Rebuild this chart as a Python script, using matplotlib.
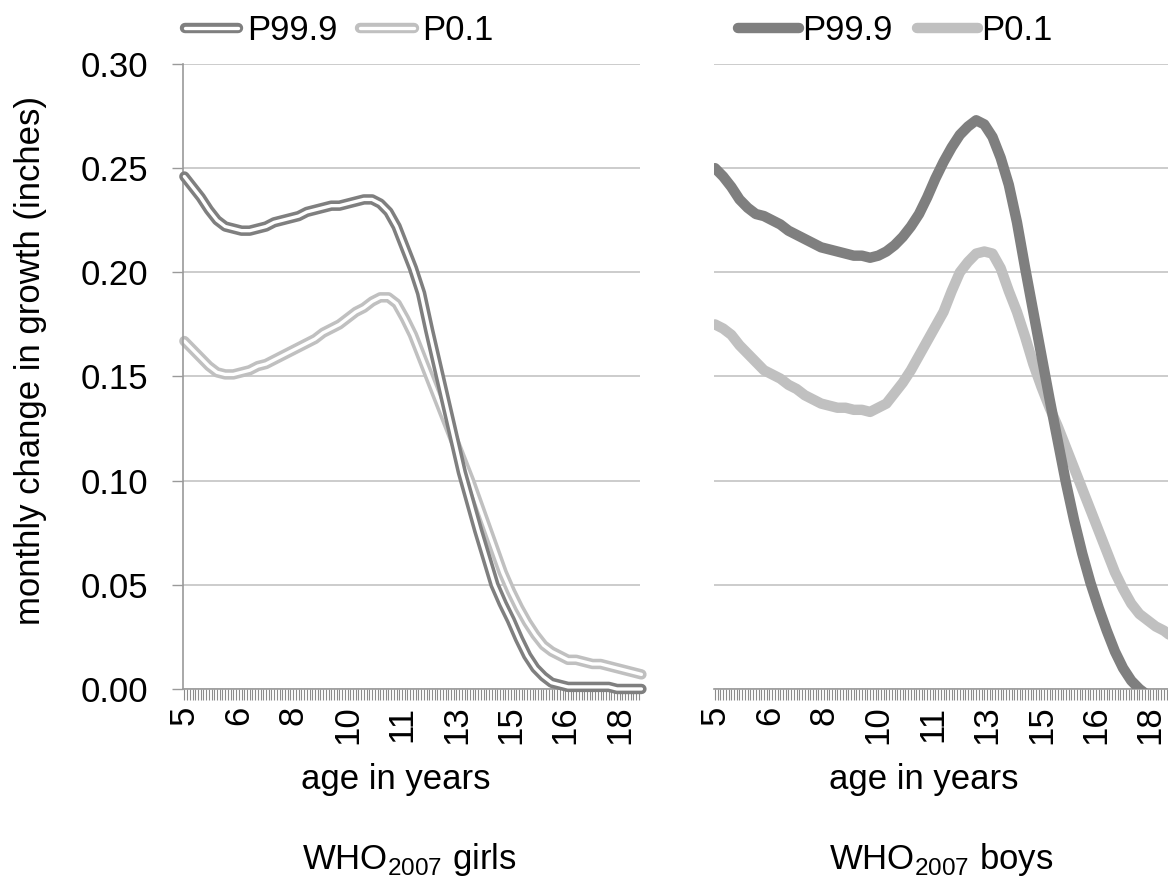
import matplotlib
matplotlib.use("Agg")
import matplotlib.pyplot as plt
import matplotlib.patheffects as pe
from matplotlib.ticker import MultipleLocator, FixedLocator, FixedFormatter

plt.rcParams['font.family'] = ['Liberation Sans', 'DejaVu Sans']
plt.rcParams['mathtext.fontset'] = 'custom'
plt.rcParams['mathtext.rm'] = 'Liberation Sans'

# age in months, one reading every 3 months (5 to 19 years)
months = list(range(60, 229, 3))

girls_p999 = [0.246, 0.241, 0.236, 0.230, 0.225, 0.222, 0.221, 0.220, 0.220, 0.221,
              0.222, 0.224, 0.225, 0.226, 0.227, 0.229, 0.230, 0.231, 0.232, 0.232,
              0.233, 0.234, 0.235, 0.235, 0.233, 0.229, 0.222, 0.212, 0.202, 0.190,
              0.172, 0.155, 0.138, 0.121, 0.104, 0.090, 0.076, 0.063, 0.050, 0.041,
              0.033, 0.024, 0.016, 0.010, 0.006, 0.003, 0.002, 0.001, 0.001, 0.001,
              0.001, 0.001, 0.001, 0.000, 0.000, 0.000, 0.000]
girls_p01 = [0.167, 0.163, 0.159, 0.155, 0.152, 0.151, 0.151, 0.152, 0.153, 0.155,
             0.156, 0.158, 0.160, 0.162, 0.164, 0.166, 0.168, 0.171, 0.173, 0.175,
             0.178, 0.181, 0.183, 0.186, 0.188, 0.188, 0.185, 0.178, 0.170, 0.160,
             0.150, 0.140, 0.130, 0.120, 0.110, 0.100, 0.089, 0.078, 0.067, 0.056,
             0.047, 0.039, 0.032, 0.026, 0.021, 0.018, 0.016, 0.014, 0.014, 0.013,
             0.012, 0.012, 0.011, 0.010, 0.009, 0.008, 0.007]

boys_p999 = [0.250, 0.246, 0.241, 0.235, 0.231, 0.228, 0.227, 0.225, 0.223, 0.220,
             0.218, 0.216, 0.214, 0.212, 0.211, 0.210, 0.209, 0.208, 0.208, 0.207,
             0.208, 0.210, 0.213, 0.217, 0.222, 0.228, 0.236, 0.245, 0.253, 0.260,
             0.266, 0.270, 0.273, 0.271, 0.265, 0.255, 0.242, 0.224, 0.202, 0.181,
             0.160, 0.139, 0.119, 0.099, 0.081, 0.065, 0.051, 0.039, 0.028, 0.018,
             0.010, 0.004, 0.000, -0.003, -0.006, -0.009, -0.012]
boys_p01 = [0.175, 0.173, 0.170, 0.165, 0.161, 0.157, 0.153, 0.151, 0.149, 0.146,
            0.144, 0.141, 0.139, 0.137, 0.136, 0.135, 0.135, 0.134, 0.134, 0.133,
            0.135, 0.137, 0.142, 0.147, 0.153, 0.160, 0.167, 0.174, 0.181, 0.191,
            0.200, 0.205, 0.209, 0.210, 0.209, 0.202, 0.191, 0.181, 0.169, 0.156,
            0.145, 0.135, 0.126, 0.116, 0.106, 0.096, 0.086, 0.076, 0.066, 0.056,
            0.048, 0.041, 0.036, 0.033, 0.030, 0.028, 0.025]

label_months = [60, 80, 100, 120, 140, 160, 180, 200, 220]
label_text = [str(m // 12) for m in label_months]
yticks = [0.00, 0.05, 0.10, 0.15, 0.20, 0.25, 0.30]

dark = '#7f7f7f'
light = '#c0c0c0'
fs = 25

fig = plt.figure(figsize=(11.68, 8.89), dpi=100)
ax1 = fig.add_axes([0.1567, 0.225, 0.3913, 0.703])
ax2 = fig.add_axes([0.611, 0.225, 0.3913, 0.703])


def style_axes(ax, show_y, label_x):
    ax.set_xlim(59.5, 227.5)
    ax.set_ylim(0, 0.30)
    ax.set_yticks(yticks)
    ax.grid(axis='y', color='#c8c8c8', lw=1.3)
    ax.set_axisbelow(True)
    for s in ['top', 'right']:
        ax.spines[s].set_visible(False)
    ax.spines['bottom'].set_color('#9a9a9a')
    ax.spines['bottom'].set_linewidth(1.2)
    ax.xaxis.set_major_locator(FixedLocator(label_months))
    ax.xaxis.set_major_formatter(FixedFormatter(label_text))
    ax.xaxis.set_minor_locator(MultipleLocator(1))
    ax.tick_params(axis='x', which='both', direction='out', length=8, width=0.8,
                   color='#8c8c8c', labelsize=fs, labelrotation=90, pad=4)
    if show_y:
        ax.spines['left'].set_color('#9a9a9a')
        ax.spines['left'].set_linewidth(1.2)
        ax.tick_params(axis='y', direction='out', length=8, width=1.0,
                       color='#9a9a9a', labelsize=fs, pad=17)
        ax.set_yticklabels(['%.2f' % v for v in yticks])
    else:
        ax.spines['left'].set_visible(False)
        ax.tick_params(axis='y', length=0, labelleft=False)
    ax.set_xlabel('age in years', fontsize=fs)
    ax.xaxis.set_label_coords(label_x, -0.118)


style_axes(ax1, True, 0.466)
style_axes(ax2, False, 0.46)

# girls: compound lines (grey edges, white core)
edge_d = [pe.Stroke(linewidth=7.5, foreground=dark, capstyle='round'), pe.Normal()]
edge_l = [pe.Stroke(linewidth=7.5, foreground=light, capstyle='round'), pe.Normal()]
g1, = ax1.plot(months, girls_p999, color='white', lw=2.4, solid_capstyle='round',
               solid_joinstyle='round', path_effects=edge_d, zorder=3, clip_on=False)
g2, = ax1.plot(months, girls_p01, color='white', lw=2.4, solid_capstyle='round',
               solid_joinstyle='round', path_effects=edge_l, zorder=2, clip_on=False)

ax1.legend([g1, g2], ['P99.9', 'P0.1'],
           loc='center left', bbox_to_anchor=(0.158, 0.966), bbox_transform=fig.transFigure,
           ncol=2, frameon=False, fontsize=fs, handlelength=1.55, handletextpad=0.25,
           columnspacing=0.65, borderpad=0, borderaxespad=0)

# boys: solid thick lines
b1, = ax2.plot(months, boys_p999, color=dark, lw=7.5, solid_capstyle='round',
               solid_joinstyle='round', zorder=3)
b2, = ax2.plot(months, boys_p01, color=light, lw=7.5, solid_capstyle='round',
               solid_joinstyle='round', zorder=2)

ax2.legend([b1, b2], ['P99.9', 'P0.1'],
           loc='center left', bbox_to_anchor=(0.632, 0.966), bbox_transform=fig.transFigure,
           ncol=2, frameon=False, fontsize=fs, handlelength=1.75, handletextpad=0.1,
           columnspacing=0.7, borderpad=0, borderaxespad=0)

fig.text(0.026, 0.595, 'monthly change in growth (inches)', rotation=90,
         fontsize=fs, ha='center', va='center')
fig.text(0.350, 0.033, r'WHO$_{\mathrm{2007}}$ girls', fontsize=fs, ha='center', va='center')
fig.text(0.806, 0.033, r'WHO$_{\mathrm{2007}}$ boys', fontsize=fs, ha='center', va='center')

fig.savefig('out.png', dpi=100)
